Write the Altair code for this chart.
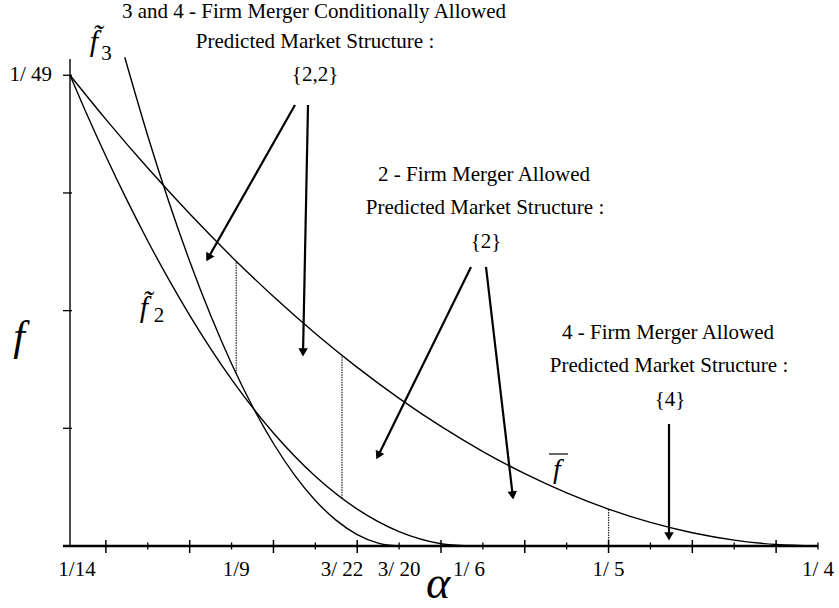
import math
import altair as alt
import pandas as pd

# ---------------------------------------------------------------- scales
ALPHA_MIN, ALPHA_MAX = 1 / 14, 1 / 4
F_MAX = 0.0212
W, H = 748, 489
FONT = "Liberation Serif"

# ---------------------------------------------------------------- curves
fbar_alpha = [1 / 14, 0.08, 0.09, 0.10, 0.11, 0.12, 0.13, 0.14, 0.15, 0.16,
              0.17, 0.18, 0.19, 0.20, 0.21, 0.22, 0.23, 0.24, 0.25]
fbar_f = [0.020408, 0.018496, 0.016384, 0.0144, 0.012544, 0.010816, 0.009216,
          0.007744, 0.0064, 0.005184, 0.004096, 0.003136, 0.002304, 0.0016,
          0.001024, 0.000576, 0.000256, 0.000064, 0.0]

f2_alpha = [1 / 14, 0.075, 0.08, 0.085, 0.09, 0.095, 0.10, 0.11, 0.12, 0.13,
            0.14, 0.15, 0.16, 1 / 6]
f2_f = [0.020408, 0.018906, 0.0169, 0.015006, 0.013225, 0.011556, 0.01,
        0.007225, 0.0049, 0.003025, 0.0016, 0.000625, 0.0001, 0.0]

f3_alpha = [0.0845, 0.09, 0.095, 0.10, 0.105, 0.11, 0.115, 0.12, 0.125, 0.13,
            0.135, 0.14, 0.145, 0.15]
f3_f = [0.021187, 0.017778, 0.014938, 0.012346, 0.01, 0.007901, 0.006049,
        0.004444, 0.003086, 0.001975, 0.001111, 0.000494, 0.000123, 0.0]

# vertical threshold segments
cut_alpha = [1 / 9, 3 / 22, 1 / 5]
cut_low = [0.007468, 0.002066, 0.0]
cut_high = [0.012346, 0.008264, 0.0016]

# axis ticks and labels
xtick_alpha = [0.08, 0.09, 0.10, 0.11, 0.12, 0.13, 0.14, 0.15, 0.16, 0.17,
               0.18, 0.19, 0.20, 0.21, 0.22, 0.23, 0.24, 0.25]
xlab_alpha = [1 / 14, 1 / 9, 3 / 22, 3 / 20, 1 / 6, 1 / 5, 1 / 4]
xlab_text = ["1/14", "1/9", "3/ 22", "3/ 20", "1/ 6", "1/ 5", "1/ 4"]
ytick_f = [1 / 196, 2 / 196, 3 / 196, 4 / 196]
XLAB_F = -0.00104

# region annotations
note_text = ["3 and 4 - Firm Merger Conditionally Allowed",
             "Predicted Market Structure :", "{2,2}",
             "2 - Firm Merger Allowed",
             "Predicted Market Structure :", "{2}",
             "4 - Firm Merger Allowed",
             "Predicted Market Structure :", "{4}"]
note_alpha = [0.12968, 0.12992, 0.12992, 0.17026, 0.17050, 0.17074,
              0.21419, 0.21443, 0.21467]
note_f = [0.02315, 0.02185, 0.02042, 0.016084, 0.014654, 0.01318,
          0.009234, 0.007804, 0.00633]

# arrows: start and tip
arrow_a0 = [0.12514, 0.12825, 0.16716, 0.17074, 0.21443]
arrow_f0 = [0.019119, 0.019119, 0.012096, 0.012096, 0.005289]
arrow_a1 = [0.10414, 0.12705, 0.14472, 0.17719, 0.21443]
arrow_f1 = [0.012399, 0.008281, 0.003815, 0.002081, 0.000303]

# ---------------------------------------------------------------- helpers
xs = alt.Scale(domain=[ALPHA_MIN, ALPHA_MAX], nice=False, zero=False)
ys = alt.Scale(domain=[0, F_MAX], nice=False, zero=False)


def X(field="a"):
    return alt.X(f"{field}:Q", scale=xs, axis=None)


def Y(field="f"):
    return alt.Y(f"{field}:Q", scale=ys, axis=None)


def curve(alpha, f):
    df = pd.DataFrame({"a": alpha, "f": f})
    return alt.Chart(df).mark_line(
        color="black", strokeWidth=1.4, interpolate="monotone"
    ).encode(x=X(), y=Y())


def label(text, alpha, f, size, italic=False, align="center",
          baseline="middle", dx=0):
    df = pd.DataFrame({"a": alpha, "f": f, "t": text})
    kw = dict(font=FONT, fontSize=size, align=align, baseline=baseline,
              color="black")
    if italic:
        kw["fontStyle"] = "italic"
    if dx:
        kw["dx"] = dx
    return alt.Chart(df).mark_text(**kw).encode(x=X(), y=Y(), text="t:N")


# ---------------------------------------------------------------- axes
x_axis = alt.Chart(pd.DataFrame({"a": [ALPHA_MIN]})).mark_rule(
    color="black", strokeWidth=2.5
).encode(x=alt.value(-7), x2=alt.value(W), y=alt.value(H))

y_axis = alt.Chart(pd.DataFrame({"a": [ALPHA_MIN]})).mark_rule(
    color="black", strokeWidth=1.4
).encode(x=X(), y=alt.value(2), y2=alt.value(H))

long_ticks = [a for a in xtick_alpha if round(a * 100) % 2 == 0]
short_ticks = [a for a in xtick_alpha if round(a * 100) % 2 == 1]
xt_long = alt.Chart(pd.DataFrame({"a": long_ticks})).mark_rule(
    color="black", strokeWidth=1.5
).encode(x=X(), y=alt.value(H - 6), y2=alt.value(H + 7))
xt_short = alt.Chart(pd.DataFrame({"a": short_ticks})).mark_rule(
    color="black", strokeWidth=1.3
).encode(x=X(), y=alt.value(H - 3.5), y2=alt.value(H + 3.5))
yt = alt.Chart(pd.DataFrame({"f": ytick_f})).mark_rule(
    color="black", strokeWidth=1.3
).encode(y=Y(), x=alt.value(-7), x2=alt.value(2))

# first label sits just right of the corner, the rest centred on their ticks
x_label_first = label(xlab_text[:1], xlab_alpha[:1], [XLAB_F], 21, dx=7)
x_labels = label(xlab_text[1:], xlab_alpha[1:],
                 [XLAB_F] * (len(xlab_alpha) - 1), 21)
y_label = label(["1/ 49"], [0.06713], [1 / 49], 21, align="right")
x_title = label(["α"], [0.15928], [-0.002254], 46, italic=True,
                baseline="alphabetic")
y_title = label(["f"], [0.05925], [0.008497], 42, italic=True,
                baseline="alphabetic")

# ---------------------------------------------------------------- thresholds
cuts = alt.Chart(pd.DataFrame({"a": cut_alpha, "f": cut_low,
                               "f2": cut_high})).mark_rule(
    color="#222222", strokeWidth=1.2, strokeDash=[1.5, 1]
).encode(x=X(), y=Y(), y2="f2:Q")

# ---------------------------------------------------------------- curve labels
# f with a combining tilde, subscript drawn beside it
f_glyphs = label(["f\u0303", "f\u0303"], [0.07716, 0.08909],
                 [0.02146, 0.009928], 30, italic=True, baseline="alphabetic")
subs = label(["3", "2"], [0.08014, 0.09268], [0.02133, 0.009971], 21)
fbar_glyph = label(["f"], [0.18769], [0.002948], 28, italic=True,
                   baseline="alphabetic")
fbar_bar = alt.Chart(pd.DataFrame({"a": [0.18578], "a2": [0.19032],
                                   "f": [0.003989]})).mark_rule(
    color="black", strokeWidth=1.2
).encode(x=X(), x2="a2:Q", y=Y())

notes = label(note_text, note_alpha, note_f, 21)

# ---------------------------------------------------------------- arrows
sx = W / (ALPHA_MAX - ALPHA_MIN)
sy = H / F_MAX
HEAD = 4.0
rows = []
for a0, f0, a1, f1 in zip(arrow_a0, arrow_f0, arrow_a1, arrow_f1):
    dxp = (a1 - a0) * sx
    dyp = -(f1 - f0) * sy
    L = math.hypot(dxp, dyp)
    ux, uy = dxp / L, dyp / L
    ang = math.degrees(math.atan2(ux, -uy)) % 360
    rows.append({"a": a0, "f": f0,
                 "a2": a1 - HEAD * ux / sx, "f2": f1 + HEAD * uy / sy,
                 "ang": ang})
arrows_df = pd.DataFrame(rows)

arrow_lines = alt.Chart(arrows_df).mark_rule(
    color="black", strokeWidth=2.2
).encode(x=X(), y=Y(), x2="a2:Q", y2="f2:Q")
arrow_heads = alt.Chart(arrows_df).mark_point(
    shape="triangle", filled=True, color="black", size=90, opacity=1
).encode(x=X("a2"), y=Y("f2"), angle=alt.Angle("ang:Q", scale=None))

chart = alt.layer(
    cuts,
    curve(fbar_alpha, fbar_f), curve(f2_alpha, f2_f), curve(f3_alpha, f3_f),
    x_axis, y_axis, xt_long, xt_short, yt,
    x_label_first, x_labels, y_label, x_title, y_title,
    f_glyphs, subs, fbar_glyph, fbar_bar,
    notes, arrow_lines, arrow_heads,
).properties(
    width=W, height=H,
    padding={"left": 70, "top": 57, "right": 21, "bottom": 62},
    autosize=alt.AutoSizeParams(type="none"),
    background="white",
).configure_view(stroke=None)

chart.save("out.html", embed_options={"renderer": "svg", "actions": False})
